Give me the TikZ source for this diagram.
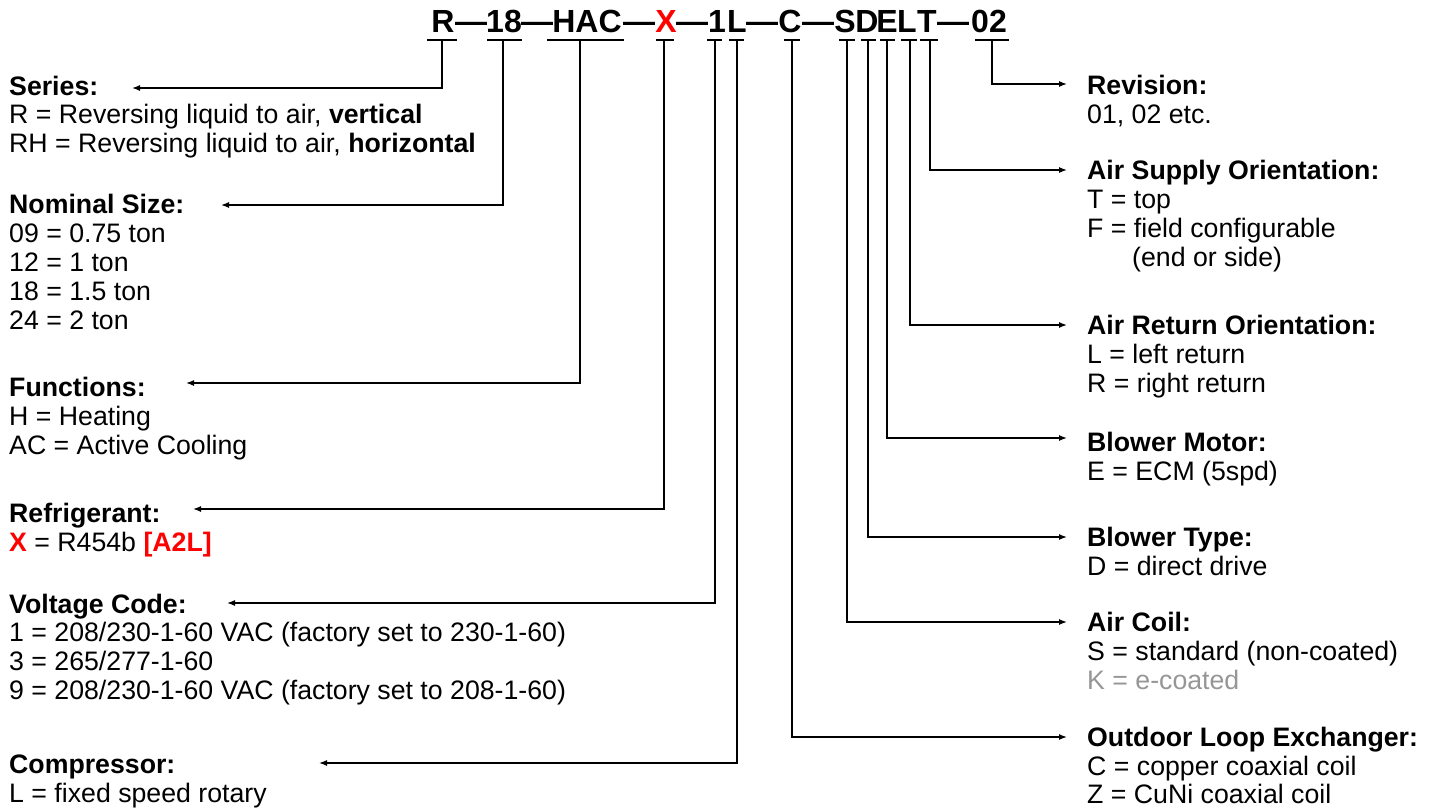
\documentclass[tikz,border=0pt]{standalone}
\usepackage{fontspec}
\setmainfont{Liberation Sans}
\usetikzlibrary{arrows.meta}
\definecolor{xred}{RGB}{255,0,0}
\definecolor{kgray}{RGB}{150,150,150}
\begin{document}
\begin{tikzpicture}[x=1pt,y=-1pt,
  code/.style={font=\fontsize{32}{35}\selectfont\bfseries, anchor=base, inner sep=0pt},
  txt/.style={font=\fontsize{26.7}{29}\selectfont, anchor=base west, inner sep=0pt},
  hd/.style={font=\fontsize{26.7}{29}\selectfont\bfseries, anchor=base west, inner sep=0pt},
  ul/.style={line width=1.3pt},
  lead/.style={line width=1.3pt, -{Latex[length=8pt,width=6pt]}}]
\useasboundingbox (0,0) rectangle (1434,807);

% ---- model code ----
\node[code] (cR)   at (443,32) {R};
\node[code] (d1)   at (471,32) {—};
\node[code] (c18)  at (504,32) {18};
\node[code] (d2)   at (537,32) {—};
\node[code] (cHAC) at (587,32) {HAC};
\node[code] (d3)   at (639,32) {—};
\node[code,text=xred] (cX) at (666,32) {X};
\node[code] (d4)   at (692,32) {—};
\node[code] (c1)   at (717,32) {1};
\node[code] (cL)   at (737,32) {L};
\node[code] (d5)   at (762,32) {—};
\node[code] (cC)   at (790,32) {C};
\node[code] (d6)   at (818,32) {—};
\node[code] (cS)   at (845,32) {S};
\node[code] (cD)   at (867,32) {D};
\node[code] (cE)   at (887,32) {E};
\node[code] (cL2)  at (907,32) {L};
\node[code] (cT)   at (927,32) {T};
\node[code] (d7)   at (953,32) {—};
\node[code] (c02)  at (989,32) {02};

% underlines
\draw[ul] (427,40) -- (457,40);
\draw[ul] (487,40) -- (522,40);
\draw[ul] (547,40) -- (624,40);
\draw[ul] (656,40) -- (674,40);
\draw[ul] (707,40) -- (722,40);
\draw[ul] (729,40) -- (744,40);
\draw[ul] (784,40) -- (800,40);
\draw[ul] (839,40) -- (855,40);
\draw[ul] (861,40) -- (876,40);
\draw[ul] (880,40) -- (895,40);
\draw[ul] (901,40) -- (917,40);
\draw[ul] (920,40) -- (938,40);
\draw[ul] (975,40) -- (1009,40);

% stem tops
\coordinate (sR)   at (442,40);
\coordinate (s18)  at (503,40);
\coordinate (sHAC) at (580,40);
\coordinate (sX)   at (664,40);
\coordinate (s1)   at (715,40);
\coordinate (sL)   at (737,40);
\coordinate (sC)   at (792,40);
\coordinate (sS)   at (847,40);
\coordinate (sD)   at (868,40);
\coordinate (sE)   at (887,40);
\coordinate (sL2)  at (910,40);
\coordinate (sT)   at (930,40);
\coordinate (s02)  at (992,40);

% arrow tips
\coordinate (tSer)  at (132,88);
\coordinate (tNom)  at (221,205);
\coordinate (tFun)  at (186,383);
\coordinate (tRef)  at (193,509);
\coordinate (tVol)  at (227,603);
\coordinate (tCom)  at (319,763);
\coordinate (tRev)  at (1067,84);
\coordinate (tSup)  at (1067,170);
\coordinate (tRet)  at (1067,325);
\coordinate (tMot)  at (1067,438);
\coordinate (tTyp)  at (1067,537);
\coordinate (tCoil) at (1067,622);
\coordinate (tOut)  at (1067,737);

\draw[lead] (sR)   |- (tSer);
\draw[lead] (s18)  |- (tNom);
\draw[lead] (sHAC) |- (tFun);
\draw[lead] (sX)   |- (tRef);
\draw[lead] (s1)   |- (tVol);
\draw[lead] (sL)   |- (tCom);
\draw[lead] (s02)  |- (tRev);
\draw[lead] (sT)   |- (tSup);
\draw[lead] (sL2)  |- (tRet);
\draw[lead] (sE)   |- (tMot);
\draw[lead] (sD)   |- (tTyp);
\draw[lead] (sS)   |- (tCoil);
\draw[lead] (sC)   |- (tOut);

% ---- left texts ----
\node[hd]  (hSer) at (9,95)  {Series:};
\node[txt] (ser1) at (9,123) {R = Reversing liquid to air, \textbf{vertical}};
\node[txt] (ser2) at (9,152) {RH = Reversing liquid to air, \textbf{horizontal}};

\node[hd]  (hNom) at (9,213) {Nominal Size:};
\node[txt] (nom1) at (9,242) {09 = 0.75 ton};
\node[txt] (nom2) at (9,271) {12 = 1 ton};
\node[txt] (nom3) at (9,300) {18 = 1.5 ton};
\node[txt] (nom4) at (9,329) {24 = 2 ton};

\node[hd]  (hFun) at (9,396) {Functions:};
\node[txt] (fun1) at (9,425) {H = Heating};
\node[txt] (fun2) at (9,454) {AC = Active Cooling};

\node[hd]  (hRef) at (9,522) {Refrigerant:};
\node[txt] (ref1) at (9,551) {\textbf{\textcolor{xred}{X}} = R454b \textbf{\textcolor{xred}{[A2L]}}};

\node[hd]  (hVol) at (9,613) {Voltage Code:};
\node[txt] (vol1) at (9,641) {1 = 208/230-1-60 VAC (factory set to 230-1-60)};
\node[txt] (vol2) at (9,670) {3 = 265/277-1-60};
\node[txt] (vol3) at (9,699) {9 = 208/230-1-60 VAC (factory set to 208-1-60)};

\node[hd]  (hCom) at (9,773) {Compressor:};
\node[txt] (com1) at (9,802) {L = fixed speed rotary};

% ---- right texts ----
\node[hd]  (hRev) at (1087,94)  {Revision:};
\node[txt] (rev1) at (1087,123) {01, 02 etc.};

\node[hd]  (hSup) at (1087,179) {Air Supply Orientation:};
\node[txt] (sup1) at (1087,208) {T = top};
\node[txt] (sup2) at (1087,237) {F = field configurable};
\node[txt] (sup3) at (1132,266) {(end or side)};

\node[hd]  (hRet) at (1087,334) {Air Return Orientation:};
\node[txt] (ret1) at (1087,363) {L = left return};
\node[txt] (ret2) at (1087,392) {R = right return};

\node[hd]  (hMot) at (1087,451) {Blower Motor:};
\node[txt] (mot1) at (1087,480) {E = ECM (5spd)};

\node[hd]  (hTyp) at (1087,546) {Blower Type:};
\node[txt] (typ1) at (1087,575) {D = direct drive};

\node[hd]  (hCoil) at (1087,631) {Air Coil:};
\node[txt] (coil1) at (1087,660) {S = standard (non-coated)};
\node[txt,text=kgray] (coil2) at (1087,689) {K = e-coated};

\node[hd]  (hOut) at (1087,746) {Outdoor Loop Exchanger:};
\node[txt] (out1) at (1087,775) {C = copper coaxial coil};
\node[txt] (out2) at (1087,803) {Z = CuNi coaxial coil};
\end{tikzpicture}
\end{document}
